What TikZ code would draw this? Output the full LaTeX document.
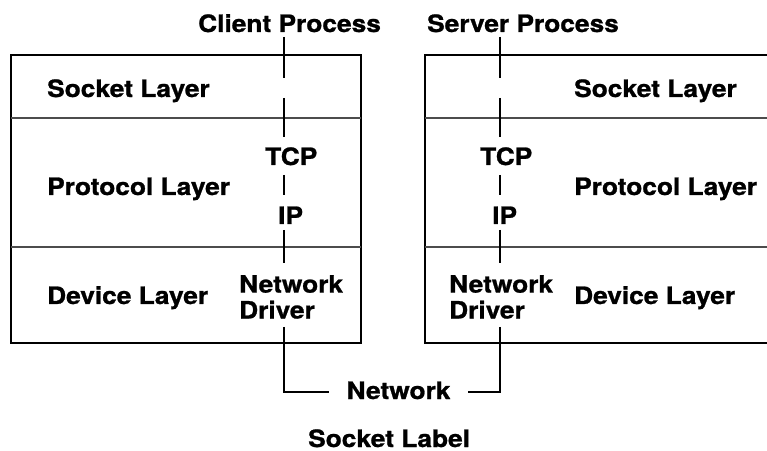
\documentclass[tikz,border=0pt]{standalone}
\usepackage{fontspec}
\setmainfont{TeX Gyre Heros}[FakeStretch=1.1, FakeBold=1]
\begin{document}
\begin{tikzpicture}[x=1bp,y=-1bp,
  lbl/.style={font=\fontsize{24}{26}\selectfont\bfseries, inner sep=0pt, anchor=base west},
  boxline/.style={line width=1.8bp, draw=black},
  divider/.style={line width=1.1bp, draw=black!70},
  link/.style={line width=1.1bp, draw=black}]
\useasboundingbox (0,0) rectangle (767,451);
% boxes
\draw[boxline] (11,55) rectangle (361,343);
\draw[divider] (11,118) -- (361,118);
\draw[divider] (11,247) -- (361,247);
\draw[boxline] (425,55) rectangle (780,343);
\draw[divider] (425,118) -- (780,118);
\draw[divider] (425,247) -- (780,247);
% labels
\node[lbl] (cp) at (198,32) {Client Process};
\node[lbl] (sp) at (427,32) {Server Process};
\node[lbl] (sockL) at (47,97) {Socket Layer};
\node[lbl] (sockR) at (574,97) {Socket Layer};
\node[lbl] (tcpL) at (265,165) {TCP};
\node[lbl] (tcpR) at (480,165) {TCP};
\node[lbl] (protoL) at (47,195) {Protocol Layer};
\node[lbl] (protoR) at (574,195) {Protocol Layer};
\node[lbl] (ipL) at (278,224) {IP};
\node[lbl] (ipR) at (492,224) {IP};
\node[lbl] (devL) at (47,304) {Device Layer};
\node[lbl] (devR) at (574,304) {Device Layer};
\node[lbl, anchor=north west, align=left] (ndL) at (239,275) {Network\\Driver};
\node[lbl, anchor=north west, align=left] (ndR) at (449,275) {Network\\Driver};
\node[lbl, anchor=base, inner xsep=17bp, inner ysep=0pt] (net) at (398.5,399) {Network};
\node[lbl] (title) at (308,447) {Socket Label};
% vertical links
\foreach \n/\y in {0/37,1/78,2/98,3/137,4/175,5/195,6/230,7/263,8/327,C/392}{
  \coordinate (L\n) at (284,\y);
  \coordinate (R\n) at (500,\y);
}
\draw[link] (L0) -- (L1);
\draw[link] (L2) -- (L3);
\draw[link] (L4) -- (L5);
\draw[link] (L6) -- (L7);
\draw[link] (L8) -- (LC) -- (LC -| net.west);
\draw[link] (R0) -- (R1);
\draw[link] (R2) -- (R3);
\draw[link] (R4) -- (R5);
\draw[link] (R6) -- (R7);
\draw[link] (R8) -- (RC) -- (RC -| net.east);
\end{tikzpicture}
\end{document}
